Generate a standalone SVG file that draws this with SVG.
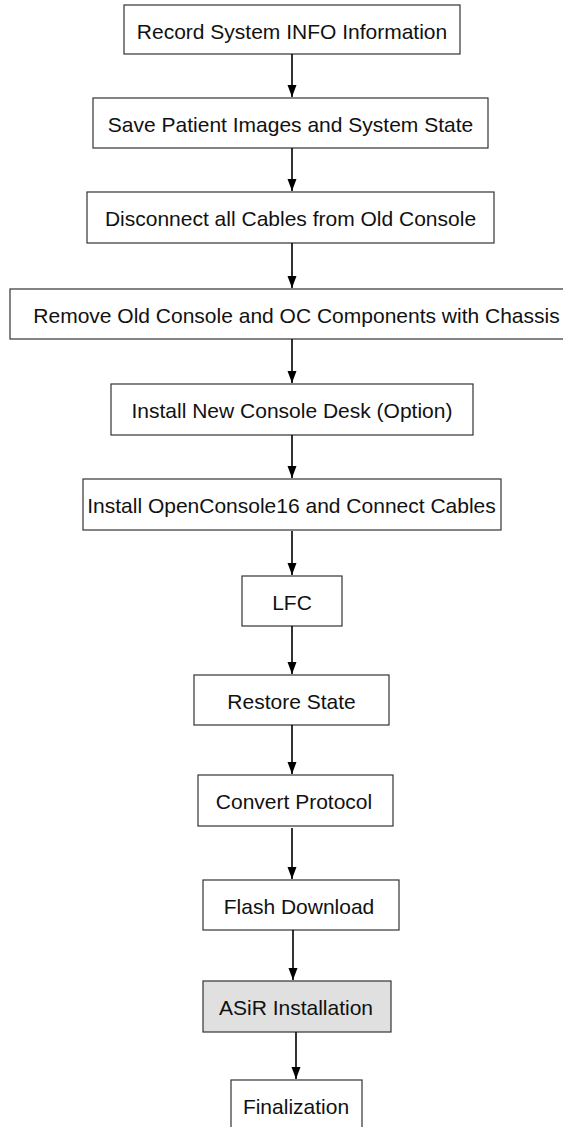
<svg xmlns="http://www.w3.org/2000/svg" width="563" height="1127" viewBox="0 0 563 1127">
<style>
.box{fill:#ffffff;stroke:#333333;stroke-width:1.2}
.gray{fill:#e0e0e0}
.lbl{font-family:"Liberation Sans",Arial,sans-serif;font-size:21px;fill:#111111;text-anchor:middle}
.conn{stroke:#000000;stroke-width:1.6;fill:none}
</style>
<defs>
<marker id="ah" markerUnits="userSpaceOnUse" markerWidth="12" markerHeight="10" refX="12" refY="4.5" orient="auto">
<path d="M0,0 L12,4.5 L0,9 z" fill="#000000"/>
</marker>
</defs>
<rect width="563" height="1127" fill="#ffffff"/>
<g id="n1"><rect class="box" x="124" y="5" width="336" height="49"/><text class="lbl" x="292" y="39">Record System INFO Information</text></g>
<g id="n2"><rect class="box" x="93" y="98" width="395" height="50"/><text class="lbl" x="290.5" y="131.5">Save Patient Images and System State</text></g>
<g id="n3"><rect class="box" x="87" y="192" width="407" height="51"/><text class="lbl" x="290.5" y="226">Disconnect all Cables from Old Console</text></g>
<g id="n4"><rect class="box" x="10" y="289" width="573" height="50"/><text class="lbl" x="296.5" y="322.5">Remove Old Console and OC Components with Chassis</text></g>
<g id="n5"><rect class="box" x="111" y="384" width="362" height="51"/><text class="lbl" x="292" y="418">Install New Console Desk (Option)</text></g>
<g id="n6"><rect class="box" x="83" y="479" width="418" height="51"/><text class="lbl" x="291.5" y="513">Install OpenConsole16 and Connect Cables</text></g>
<g id="n7"><rect class="box" x="242" y="576" width="100" height="50"/><text class="lbl" x="292" y="610">LFC</text></g>
<g id="n8"><rect class="box" x="194" y="675" width="195" height="50"/><text class="lbl" x="291.5" y="708.5">Restore State</text></g>
<g id="n9"><rect class="box" x="198" y="775" width="195" height="51"/><text class="lbl" x="294" y="809">Convert Protocol</text></g>
<g id="n10"><rect class="box" x="203" y="880" width="196" height="50"/><text class="lbl" x="299" y="913.5">Flash Download</text></g>
<g id="n11"><rect class="box gray" x="203" y="981" width="188" height="51"/><text class="lbl" x="296" y="1015">ASiR Installation</text></g>
<g id="n12"><rect class="box" x="231" y="1080" width="131" height="60"/><text class="lbl" x="296" y="1114">Finalization</text></g>
<g id="connectors">
<line class="conn" x1="292" y1="54" x2="292" y2="97" marker-end="url(#ah)"/>
<line class="conn" x1="292" y1="148" x2="292" y2="191" marker-end="url(#ah)"/>
<line class="conn" x1="292" y1="243" x2="292" y2="288" marker-end="url(#ah)"/>
<line class="conn" x1="292" y1="339" x2="292" y2="383" marker-end="url(#ah)"/>
<line class="conn" x1="292" y1="435" x2="292" y2="478" marker-end="url(#ah)"/>
<line class="conn" x1="292" y1="531" x2="292" y2="575" marker-end="url(#ah)"/>
<line class="conn" x1="292" y1="626" x2="292" y2="674" marker-end="url(#ah)"/>
<line class="conn" x1="292" y1="725" x2="292" y2="774" marker-end="url(#ah)"/>
<line class="conn" x1="292" y1="828" x2="292" y2="879" marker-end="url(#ah)"/>
<line class="conn" x1="293" y1="930" x2="293" y2="980" marker-end="url(#ah)"/>
<line class="conn" x1="296" y1="1032" x2="296" y2="1079" marker-end="url(#ah)"/>
</g>
</svg>
